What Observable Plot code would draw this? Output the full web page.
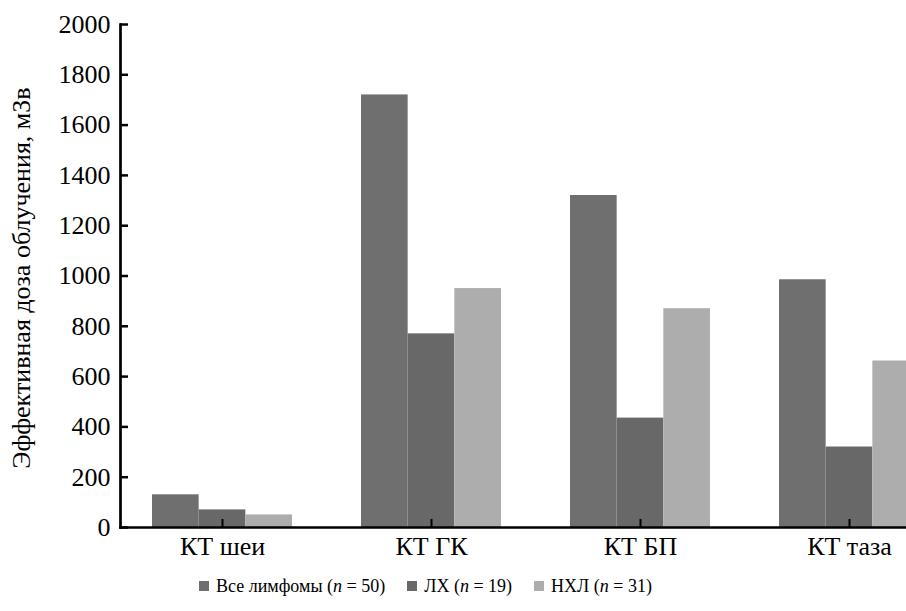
<!DOCTYPE html>
<html><head><meta charset="utf-8">
<script src="https://cdn.jsdelivr.net/npm/d3@7"></script>
<script src="https://cdn.jsdelivr.net/npm/@observablehq/plot@0.6"></script>
<style>
html,body{margin:0;padding:0;background:#fff;overflow:hidden;width:906px;height:611px;}
#wrap{position:relative;width:906px;height:611px;overflow:hidden;font-family:"Liberation Serif",serif;}
#chart svg{overflow:hidden;}
#chart svg g, #chart svg text{font-family:"Liberation Serif",serif !important;}
#chart g[aria-label="y-axis tick label"]{font-size:26px;}
#chart g[aria-label="x-axis tick label"]{font-size:26px;}
.legend{position:absolute;left:199px;top:573px;display:flex;align-items:center;font-size:18px;color:#000;white-space:nowrap;line-height:26px;}
.sw{display:inline-block;width:10px;height:10px;margin-right:7px;}
.item{display:flex;align-items:center;margin-right:22px;}
.ylabel{position:absolute;left:22px;top:278px;transform:translate(-50%,-50%) rotate(-90deg);font-size:26px;white-space:nowrap;color:#000;line-height:30px;}
</style></head><body><div id="wrap"><div id="chart"></div><div class="ylabel" id="ylabel"></div><div class="legend" id="legend"></div></div>
<script>
const categories = ["КТ шеи", "КТ ГК", "КТ БП", "КТ таза"];
const seriesNames = ["Все лимфомы", "ЛХ", "НХЛ"];
const seriesN = [50, 19, 31];
const allLymphomas = [130, 1720, 1320, 985];
const lhValues = [70, 770, 435, 320];
const nhlValues = [50, 950, 870, 662];
const yTicks = [0, 200, 400, 600, 800, 1000, 1200, 1400, 1600, 1800, 2000];
const colors = ["#6f6f6f", "#686868", "#adadad"];
const yLabel = "Эффективная доза облучения, мЗв";
const serif = "Liberation Serif";

const seriesValues = [allLymphomas, lhValues, nhlValues];
const xRange = [117.5, 953.5];
const padInner = 0.33, padOuter = 0.165;
const step = (xRange[1] - xRange[0]) / categories.length;
const bw = step * (1 - padInner);
const third = bw / 3;

const barMarks = seriesValues.map((vals, s) =>
  Plot.barY(categories.map((c, i) => ({category: c, value: vals[i]})), {
    x: "category", y: "value", fill: colors[s],
    insetLeft: third * s, insetRight: third * (2 - s), clip: true
  })
);

const chart = Plot.plot({
  width: 906, height: 570,
  marginLeft: 120, marginRight: 0, marginTop: 24, marginBottom: 43,
  style: {fontFamily: serif, fontSize: "26px", color: "#000", background: "#fff"},
  x: {type: "band", domain: categories, range: xRange, paddingInner: padInner, paddingOuter: padOuter},
  y: {domain: [0, 2000]},
  marks: [
    ...barMarks,
    Plot.axisY({ticks: yTicks, tickSize: 0, tickPadding: 10, label: null, tickFormat: d => String(d), fontFamily: serif, fontSize: 26, fontVariant: "normal"}),
    Plot.tickY(yTicks, {y: d => d, insetRight: 778, stroke: "#000", strokeWidth: 2.5}),
    Plot.axisX({tickSize: 0, tickPadding: 9, label: null, fontFamily: serif, fontSize: 26}),
    Plot.tickX(categories, {x: d => d, insetTop: 495, stroke: "#000", strokeWidth: 2}),
    Plot.frame({anchor: "left", stroke: "#000", strokeWidth: 2.7}),
    Plot.frame({anchor: "bottom", stroke: "#000", strokeWidth: 2.7})
  ]
});
document.getElementById("chart").appendChild(chart);
document.getElementById("ylabel").textContent = yLabel;

const legend = document.getElementById("legend");
seriesNames.forEach((name, s) => {
  const item = document.createElement("span");
  item.className = "item";
  item.innerHTML = `<span class="sw" style="background:${colors[s]}"></span><span>${name} (<i>n</i> = ${seriesN[s]})</span>`;
  legend.appendChild(item);
});
</script>
</body></html>
